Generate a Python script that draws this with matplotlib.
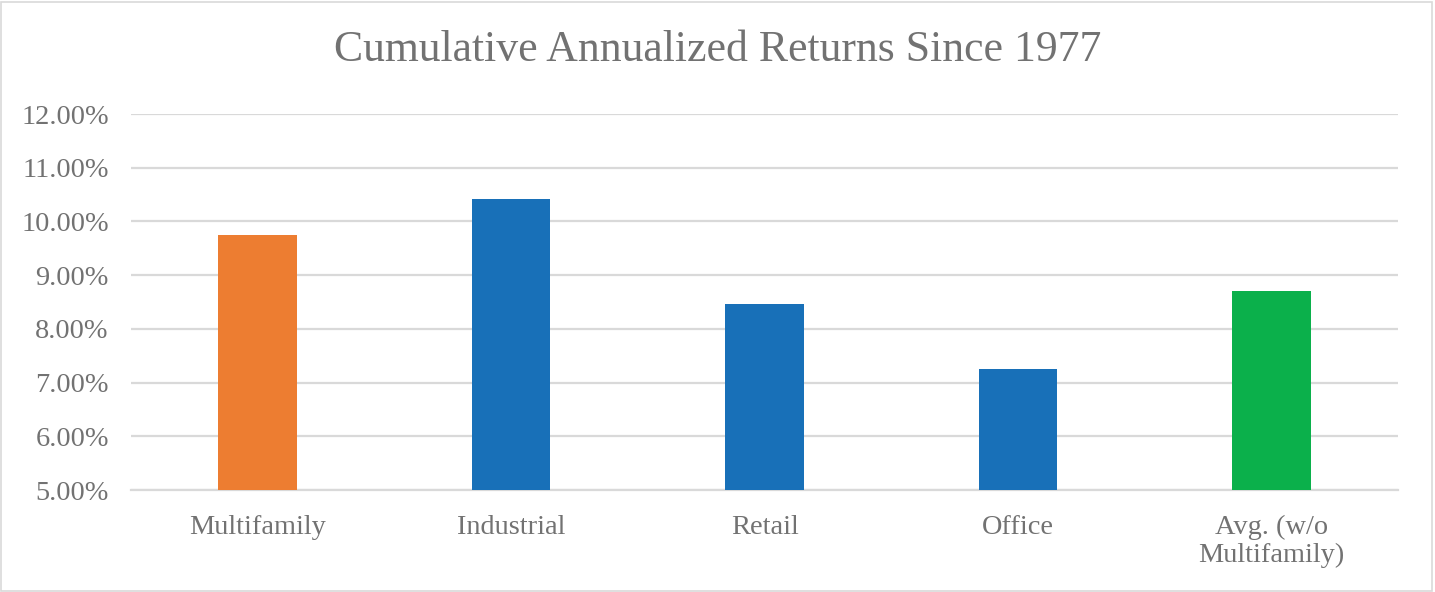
import matplotlib.pyplot as plt
from matplotlib.patches import Rectangle
from matplotlib.ticker import FuncFormatter

categories = ["Multifamily", "Industrial", "Retail", "Office", "Avg. (w/o\nMultifamily)"]
returns = [9.74, 10.41, 8.46, 7.25, 8.70]
colors = ["#ED7D31", "#1870B8", "#1870B8", "#1870B8", "#0BB04B"]

plt.rcParams['font.family'] = ['Liberation Serif', 'DejaVu Serif']
text_gray = "#727272"

fig = plt.figure(figsize=(14.35, 5.92), dpi=100)
ax = fig.add_axes([131 / 1435, 1 - 490 / 592, (1398 - 131) / 1435, (490 - 114) / 592])

x = range(len(categories))
ax.bar(x, returns, width=0.31, color=colors, zorder=3)

ax.set_ylim(5, 12)
ax.set_xlim(-0.5, len(categories) - 0.5)
ax.set_yticks([5, 6, 7, 8, 9, 10, 11, 12])
ax.yaxis.set_major_formatter(FuncFormatter(lambda v, p: "%.2f%%" % v))
ax.set_xticks(list(x))
ax.set_xticklabels(categories, linespacing=1.13)
ax.tick_params(axis='both', length=0, labelsize=20.4, colors=text_gray)
ax.tick_params(axis='x', pad=18)
ax.tick_params(axis='y', pad=16)
ax.grid(axis='y', color="#D9D9D9", linewidth=1.6, zorder=0)
for s in ["top", "right", "left"]:
    ax.spines[s].set_visible(False)
ax.spines["bottom"].set_color("#D9D9D9")
ax.spines["bottom"].set_linewidth(1.6)

fig.text(0.5, 1 - 50 / 592, "Cumulative Annualized Returns Since 1977", ha="center", va="center",
         fontsize=31.5, color=text_gray)

fig.patches.append(Rectangle((0.001, 0.002), 0.997, 0.995, transform=fig.transFigure,
                             fill=False, edgecolor="#D9D9D9", linewidth=1.2))

fig.savefig("out.png", dpi=100)
